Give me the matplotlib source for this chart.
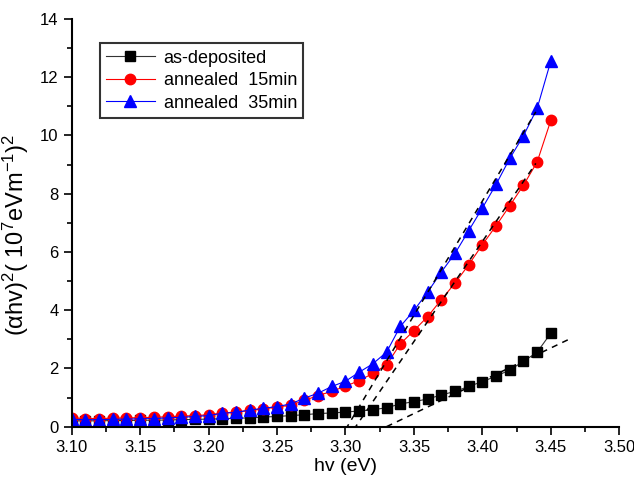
import numpy as np
import matplotlib
matplotlib.use("Agg")
import matplotlib.pyplot as plt

plt.rcParams['font.family'] = ['Liberation Sans', 'DejaVu Sans']
plt.rcParams['mathtext.fontset'] = 'custom'
plt.rcParams['mathtext.rm'] = 'Liberation Sans'
plt.rcParams['mathtext.it'] = 'Liberation Sans'

# ------------------------------------------------------------
# Donnees
# ------------------------------------------------------------
hv = np.round(np.arange(3.10, 3.455, 0.01), 2)

as_deposited = [0.20, 0.20, 0.20, 0.21, 0.21, 0.22, 0.22, 0.23, 0.24, 0.25,
                0.26, 0.27, 0.29, 0.30, 0.33, 0.35, 0.38, 0.41, 0.45, 0.47,
                0.50, 0.54, 0.58, 0.65, 0.78, 0.86, 0.95, 1.09, 1.21, 1.38,
                1.55, 1.73, 1.95, 2.24, 2.56, 3.21]

annealed_15 = [0.30, 0.28, 0.28, 0.29, 0.30, 0.31, 0.32, 0.34, 0.36, 0.38,
               0.41, 0.47, 0.50, 0.56, 0.61, 0.67, 0.74, 0.90, 1.07, 1.21,
               1.39, 1.58, 1.83, 2.12, 2.84, 3.30, 3.78, 4.36, 4.93, 5.56,
               6.25, 6.90, 7.59, 8.29, 9.09, 10.52]

annealed_35 = [0.25, 0.24, 0.24, 0.25, 0.26, 0.27, 0.28, 0.30, 0.32, 0.35,
               0.38, 0.46, 0.49, 0.57, 0.63, 0.69, 0.78, 0.98, 1.15, 1.38,
               1.56, 1.87, 2.16, 2.56, 3.44, 3.99, 4.62, 5.31, 5.95, 6.73,
               7.51, 8.32, 9.21, 9.99, 10.93, 12.56]

# droites d'extrapolation (Tauc) : extremites (x, y)
fit_dep_x, fit_dep_y = [3.330, 3.465], [0.0, 3.04]
fit_15_x, fit_15_y = [3.306, 3.439], [-0.1, 9.04]
fit_35_x, fit_35_y = [3.300, 3.439], [-0.1, 10.81]

labels = ["as-deposited", "annealed  15min", "annealed  35min"]

# ------------------------------------------------------------
# Figure
# ------------------------------------------------------------
fig = plt.figure(figsize=(6.34, 4.78), dpi=100)
ax = fig.add_axes([0.1131, 0.1074, 0.8637, 0.8529])

ax.plot(hv, as_deposited, '-s', color='#333333', mfc='black', mec='black',
        lw=0.8, ms=7, label=labels[0])
ax.plot(hv, annealed_15, '-o', color='red', lw=0.8, ms=7.5, label=labels[1])
ax.plot(hv, annealed_35, '-^', color='blue', lw=0.8, ms=8.5, label=labels[2])

for fx, fy in [(fit_dep_x, fit_dep_y), (fit_15_x, fit_15_y), (fit_35_x, fit_35_y)]:
    ax.plot(fx, fy, '--', color='black', lw=1.1, dashes=(4, 3.5), zorder=5)

ax.set_xlim(3.10, 3.50)
ax.set_ylim(0, 14)
ax.set_xticks(np.arange(3.10, 3.501, 0.05))
ax.set_xticks(np.arange(3.125, 3.50, 0.05), minor=True)
ax.set_yticks(np.arange(0, 14.1, 2))
ax.set_yticks(np.arange(1, 14, 2), minor=True)
ax.xaxis.set_major_formatter(matplotlib.ticker.FormatStrFormatter('%.2f'))

for s in ['top', 'right']:
    ax.spines[s].set_visible(False)
for s in ['left', 'bottom']:
    ax.spines[s].set_linewidth(1.5)

ax.tick_params(which='major', direction='out', length=6, width=1.2, labelsize=12)
ax.tick_params(which='minor', direction='out', length=3.5, width=1.2)

ax.set_xlabel("hv (eV)", fontsize=14, labelpad=2)
ax.set_ylabel(r"(αhv)$^2$( 10$^7$eVm$^{-1}$)$^2$", fontsize=17, labelpad=1)
ax.yaxis.set_label_coords(-0.075, 0.47)

leg = ax.legend(loc='upper left', bbox_to_anchor=(0.051, 0.94), fontsize=13,
                frameon=True, fancybox=False, handlelength=2.7, borderpad=0.35,
                labelspacing=0.3, handletextpad=0.5, borderaxespad=0)
leg.get_frame().set_edgecolor('black')
leg.get_frame().set_linewidth(1.5)

fig.savefig("out.png", dpi=100)
